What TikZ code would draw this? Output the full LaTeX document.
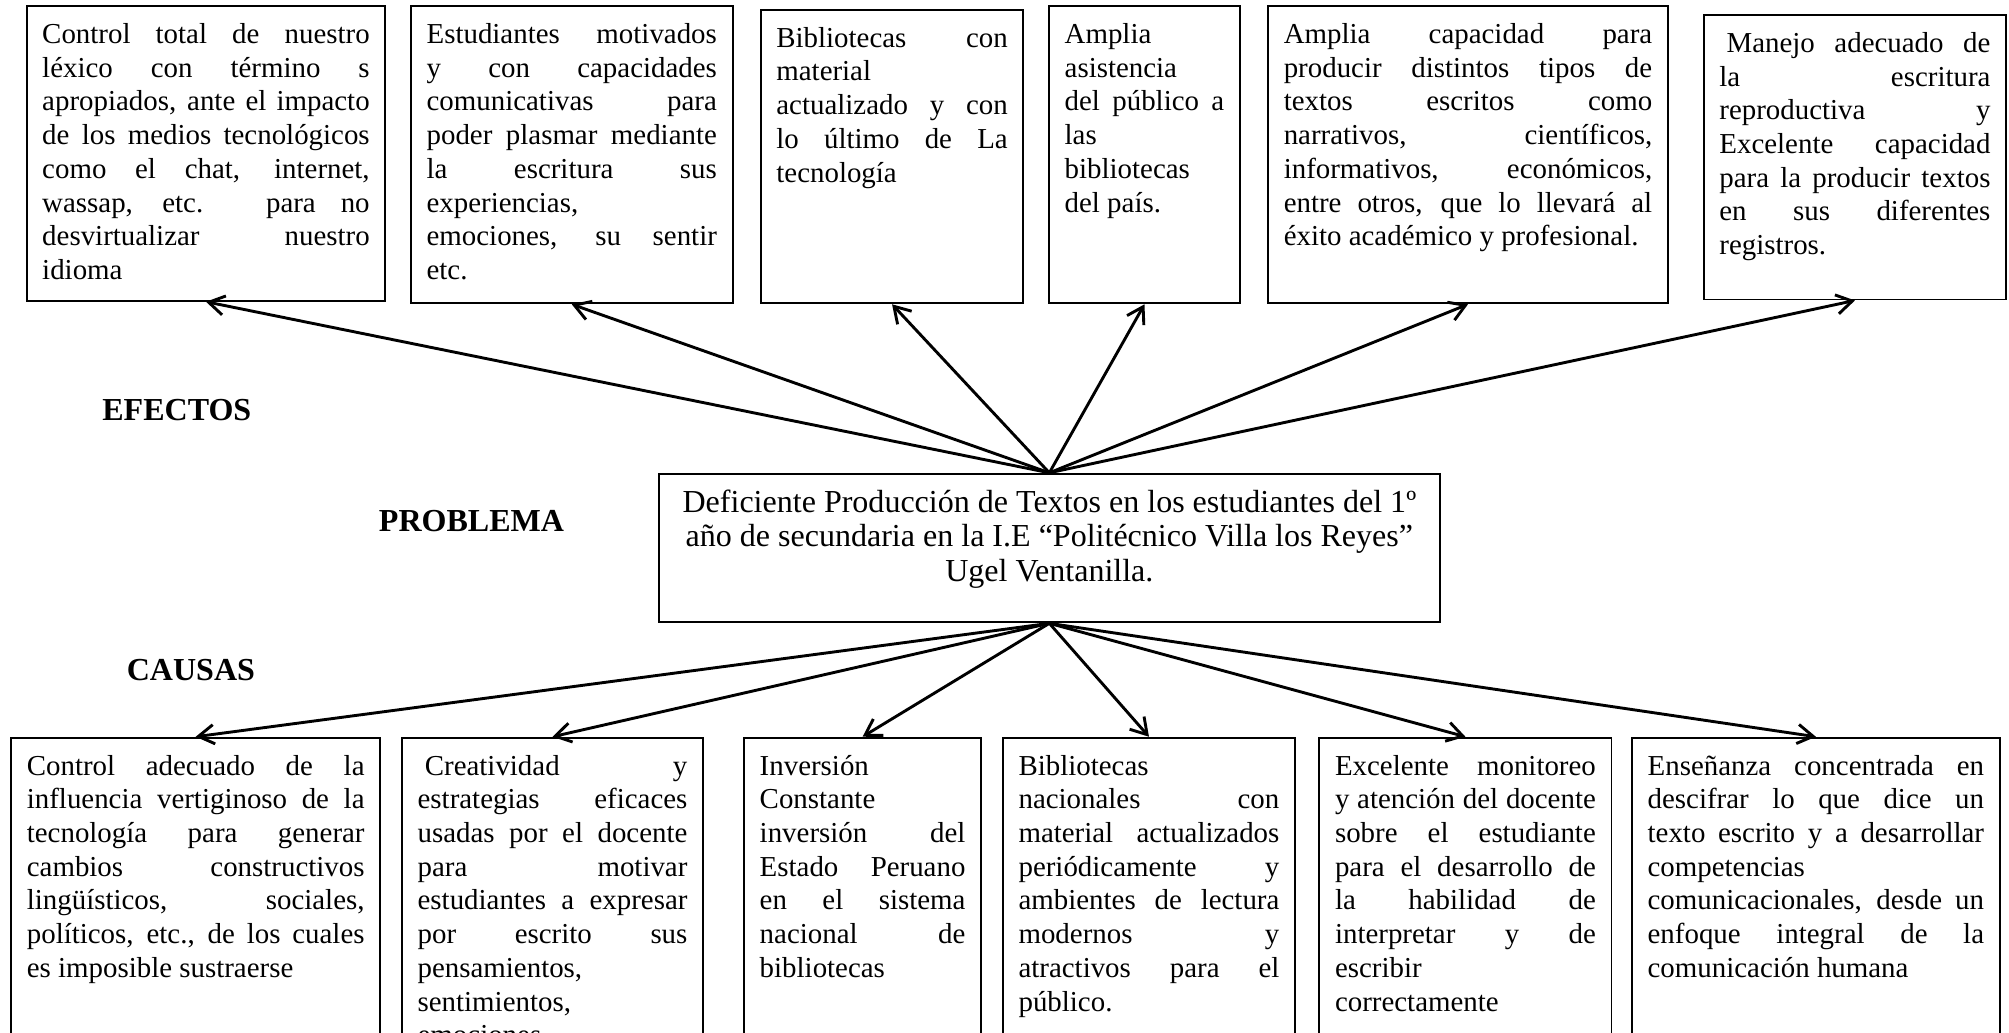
\documentclass[tikz,border=0pt]{standalone}
\usepackage{fontspec}
\setmainfont{Liberation Serif}
\usetikzlibrary{arrows.meta}
\newlength{\un}
\setlength{\un}{0.532pt}
\hyphenpenalty=10000
\tolerance=10000

\begin{document}
\begin{tikzpicture}[x=0.532pt,y=-0.532pt,
  caja/.style 2 args={draw, line width=0.8pt, anchor=north west, inner xsep=6.5pt, inner ysep=5pt,
    text width=\dimexpr#1\un-13pt\relax, text height=10.5pt, text depth=#2*\un-20.5pt, align=justify,
    font=\fontsize{12}{14}\selectfont},
  titulo/.style={font=\fontsize{13.3}{15}\selectfont\bfseries},
  flecha/.style={line width=1.2pt, -{Straight Barb[length=6.5pt,width=8pt]}}]
\useasboundingbox (0,0) rectangle (1568,806);
\clip (0,0) rectangle (1568,806);
%----------efectos-----------------------------
\node[caja={280}{230}] (efecto1) at (20,4) {Control total de nuestro\linebreak
  léxico con término s\linebreak apropiados, ante el impacto\linebreak
  de los medios tecnológicos\linebreak como el chat, internet,\linebreak
  wassap, etc. para no\linebreak desvirtualizar nuestro\linebreak idioma};
\node[caja={251}{232}] (efecto2) at (320,4) {Estudiantes motivados\linebreak
  y con capacidades\linebreak comunicativas para\linebreak
  poder plasmar mediante\linebreak la escritura sus\linebreak
  experiencias,\linebreak emociones, su sentir\linebreak etc.};
\node[caja={205}{229}] (efecto3) at (593,7) {Bibliotecas con\linebreak material\linebreak
  actualizado y con\linebreak lo último de La\linebreak tecnología};
\node[caja={149}{232}] (efecto4) at (818,4) {Amplia\linebreak asistencia\linebreak
  del público a\linebreak las\linebreak bibliotecas\linebreak del país.};
\node[caja={312}{232}] (efecto5) at (989,4) {Amplia capacidad para\linebreak
  producir distintos tipos de\linebreak textos escritos como\linebreak
  narrativos, científicos,\linebreak informativos, económicos,\linebreak
  entre otros, que lo llevará al\linebreak éxito académico y profesional.};
\node[caja={236}{222}] (efecto6) at (1329,11) {\hspace*{3pt}Manejo adecuado de\linebreak
  la escritura\linebreak reproductiva y\linebreak Excelente capacidad\linebreak
  para la producir textos\linebreak en sus diferentes\linebreak registros.};
%----------problema----------------------------
\node[draw, line width=0.8pt, anchor=north, inner sep=0pt, minimum width=610*\un,
  text height=44.8pt, text depth=116*\un-44.8pt, align=center,
  font=\fontsize{13.3}{14.4}\selectfont] (problema) at (819,369)
  {Deficiente Producción de Textos en los estudiantes del 1º\\
   año de secundaria en la I.E “Politécnico Villa los Reyes”\\
   Ugel Ventanilla.};
%----------causas------------------------------
\node[caja={288}{260}] (causa1) at (8,575) {Control adecuado de la\linebreak
  influencia vertiginoso de la\linebreak tecnología para generar\linebreak
  cambios constructivos\linebreak lingüísticos, sociales,\linebreak
  políticos, etc., de los cuales\linebreak es imposible sustraerse};
\node[caja={235}{260}] (causa2) at (313,575) {\hspace*{3pt}Creatividad y\linebreak
  estrategias eficaces\linebreak usadas por el docente\linebreak para motivar\linebreak
  estudiantes a expresar\linebreak por escrito sus\linebreak pensamientos,\linebreak
  sentimientos,\linebreak emociones};
\node[caja={185}{260}] (causa3) at (580,575) {Inversión\linebreak Constante\linebreak
  inversión del\linebreak Estado Peruano\linebreak en el sistema\linebreak
  nacional de\linebreak bibliotecas};
\node[caja={228}{260}] (causa4) at (782,575) {Bibliotecas\linebreak nacionales con\linebreak
  material actualizados\linebreak periódicamente y\linebreak ambientes de lectura\linebreak
  modernos y\linebreak atractivos para el\linebreak público.};
\node[caja={228}{260}] (causa5) at (1029,575) {Excelente monitoreo\linebreak
  y atención del docente\linebreak sobre el estudiante\linebreak para el desarrollo de\linebreak
  la habilidad de\linebreak interpretar y de\linebreak escribir\linebreak correctamente};
\node[caja={287}{260}] (causa6) at (1273,575) {Enseñanza concentrada en\linebreak
  descifrar lo que dice un\linebreak texto escrito y a desarrollar\linebreak
  competencias\linebreak comunicacionales, desde un\linebreak
  enfoque integral de la\linebreak comunicación humana};
%----------titulos-----------------------------
\node[titulo] (efectos) at (138,320) {EFECTOS};
\node[titulo] (problemalbl) at (368,407) {PROBLEMA};
\node[titulo] (causas) at (149,523) {CAUSAS};
%----------flechas-----------------------------
\foreach \i in {1,...,6}{
  \draw[flecha] (problema.north) -- (efecto\i.south);
  \draw[flecha] (problema.south) -- (causa\i.north);
}
\end{tikzpicture}
\end{document}
